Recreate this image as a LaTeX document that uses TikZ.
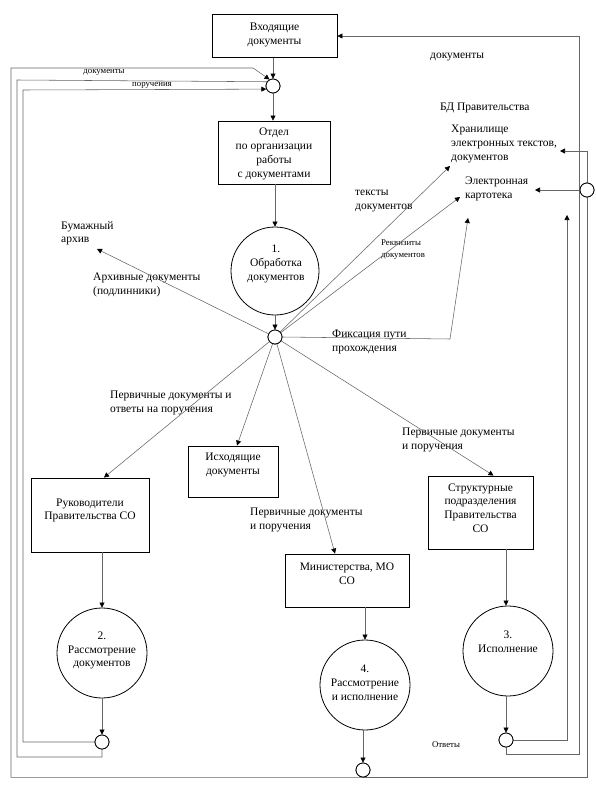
\documentclass[tikz,border=0pt]{standalone}
\usepackage{fontspec}
\setmainfont{Liberation Serif}
\usetikzlibrary{arrows.meta,calc}
\newcommand{\mfont}{\fontsize{11.5}{13.8}\selectfont}
\newcommand{\sfont}{\fontsize{8.8}{11.5}\selectfont}
\begin{document}
\begin{tikzpicture}[x=1pt,y=-1pt,
  box/.style={draw, line width=0.9pt, inner sep=0pt},
  proc/.style={draw, circle, line width=0.8pt, inner sep=0pt},
  txt/.style={align=center, font=\mfont, inner sep=0pt},
  sm/.style={draw, circle, line width=0.8pt, minimum size=14pt, inner sep=0pt, fill=white},
  conn/.style={draw=black!60, line width=0.55pt},
  arr/.style={conn, -{Triangle[length=5pt,width=5pt,color=black]}},
  lbl/.style={align=left, font=\mfont, inner sep=0pt, anchor=north west},
  slbl/.style={align=left, font=\sfont, inner sep=0pt},
]
\useasboundingbox (0,0) rectangle (595,789);
\fill[white] (0,0) rectangle (595,789);

% boxes
\node[box, minimum width=125pt, minimum height=43pt] (inc) at (274.5,36) {};
\node[txt] (inct) at (274.5,35) {Входящие\\документы};
\node[box, minimum width=112pt, minimum height=63pt] (otd) at (274,152.5) {};
\node[txt] (otdt) at (274,154) {Отдел\\по организации\\работы\\с документами};
\node[box, minimum width=90pt, minimum height=51pt] (isx) at (233,471.5) {};
\node[txt] (isxt) at (233,465) {Исходящие\\документы};
\node[box, minimum width=118pt, minimum height=74pt] (ruk) at (90,515) {};
\node[txt] (rukt) at (90,510.5) {Руководители\\Правительства СО};
\node[box, minimum width=124pt, minimum height=53pt] (min) at (347,580.5) {};
\node[txt] (mint) at (347,573.5) {Министерства, МО\\СО};
\node[box, minimum width=105pt, minimum height=73pt] (str) at (480.5,512.5) {};
\node[txt] (strt) at (480.5,508) {Структурные\\подразделения\\Правительства\\СО};

% process circles
\node[proc, minimum size=88pt] (p1) at (275,271) {};
\node[txt] (p1t) at (276,264) {1.\\Обработка\\документов};
\node[proc, minimum size=90pt] (p2) at (102,653) {};
\node[txt] (p2t) at (102,650.5) {2.\\Рассмотрение\\документов};
\node[proc, minimum size=90pt] (p4) at (365,685) {};
\node[txt] (p4t) at (365,682.5) {4.\\Рассмотрение\\и исполнение};
\node[proc, minimum size=90pt] (p3) at (508,651) {};
\node[txt] (p3t) at (508,642) {3.\\Исполнение};

% small circles
\node[sm] (ctop) at (273,86) {};
\node[sm] (hub) at (275,337) {};
\node[sm] (c2b) at (102,742) {};
\node[sm] (c4b) at (363,770) {};
\node[sm] (c3b) at (506,740) {};
\node[sm] (cr) at (587,190) {};

% texts
\node[lbl] (tarch) at (61,221) {Бумажный\\архив};
\node[lbl] (tarchd) at (93,273) {Архивные документы\\(подлинники)};
\node[lbl] (tperv1) at (110,391) {Первичные документы и\\ответы на поручения};
\node[lbl] (tperv2) at (250,508) {Первичные документы\\и поручения};
\node[lbl] (tperv3) at (402,428) {Первичные документы\\и поручения};
\node[lbl] (tfix) at (332,330) {Фиксация пути\\прохождения};
\node[lbl] (ttxt) at (355,190) {тексты\\документов};
\node[lbl] (tbd) at (440,103) {БД Правительства};
\node[lbl] (thran) at (451,125) {Хранилище\\электронных текстов,\\документов};
\node[lbl] (tkart) at (465,177) {Электронная\\картотека};
\node[lbl] (tdocr) at (430,53) {документы};
\node[slbl, anchor=north west] (trekv) at (381,240) {Реквизиты\\документов};
\node[slbl] (tdocl) at (104,72.5) {документы};
\node[slbl] (tpor) at (152,85.5) {поручения};
\node[slbl] (totv) at (446,745) {Ответы};

% coordinates for free ends
\coordinate (archtip) at (97,249);
\coordinate (hrantip) at (450,166);
\coordinate (karttip) at (460,197);
\coordinate (fixc) at (450,339);
\coordinate (fixtip) at (468,218);
\coordinate (L1) at (11,68);
\coordinate (L1k) at (253,68);
\coordinate (L2) at (17,80);
\coordinate (L2b) at (17,757);
\coordinate (L3) at (23,90);
\coordinate (R1b) at (567,740);
\coordinate (R1tip) at (567,215);
\coordinate (R2b) at (579,754);
\coordinate (hrank) at (560,151);
\coordinate (kartk) at (535,190);

% main flow
\draw[arr] (ctop.north |- inc.south) -- (ctop.north);
\draw[arr] (ctop.south) -- (ctop.south |- otd.north);
\draw[arr] (p1.north |- otd.south) -- (p1.north);
\draw[arr] (p1.south) -- (hub.north);

% from hub
\draw[arr] (hub) -- (archtip);
\draw[arr] (hub) -- (hrantip);
\draw[arr] (hub) -- (karttip);
\draw[arr] (hub.east) -- (fixc) -- (fixtip);
\draw[arr] (hub) -- ($(isx.north)+(4,0)$);
\draw[arr] (hub) -- ($(ruk.north)+(14,0)$);
\draw[arr] (hub) -- ($(min.north)+(-12,0)$);
\draw[arr] (hub) -- ($(str.north)+(13,0)$);

% boxes to processes
\draw[arr] (p2.north |- ruk.south) -- (p2.north);
\draw[arr] (p4.north |- min.south) -- (p4.north);
\draw[arr] (c3b.north |- str.south) -- (c3b.north |- p3.north);
\draw[arr] (p2.south) -- (c2b.north);
\draw[arr] (c4b.north |- p4.south) -- (c4b.north);
\draw[arr] (c3b.north |- p3.south) -- (c3b.north);

% feedback loops left
\draw[arr] (c2b.west) -| (L3) -- (ctop.205);
\draw[conn] (c2b.south) |- (L2b) -- (L2) -- (ctop.145);
\draw[arr] (c4b.south) -| (L1) -- (L1k) -- (ctop.118);

% feedback loops right
\draw[conn] (c4b.south) -| (cr.south);
\draw[arr] (cr.north) |- (hrank);
\draw[arr] (cr.west) -- (kartk);
\draw[arr] (c3b.east) -- (R1b) -- (R1tip);
\draw[arr] (c3b.south) |- (R2b) |- (inc.east);

% redraw small circles on top
\foreach \n in {ctop,hub,c2b,c4b,c3b,cr} {\draw[line width=0.8pt, fill=white] (\n) circle (7pt);}
\end{tikzpicture}
\end{document}
